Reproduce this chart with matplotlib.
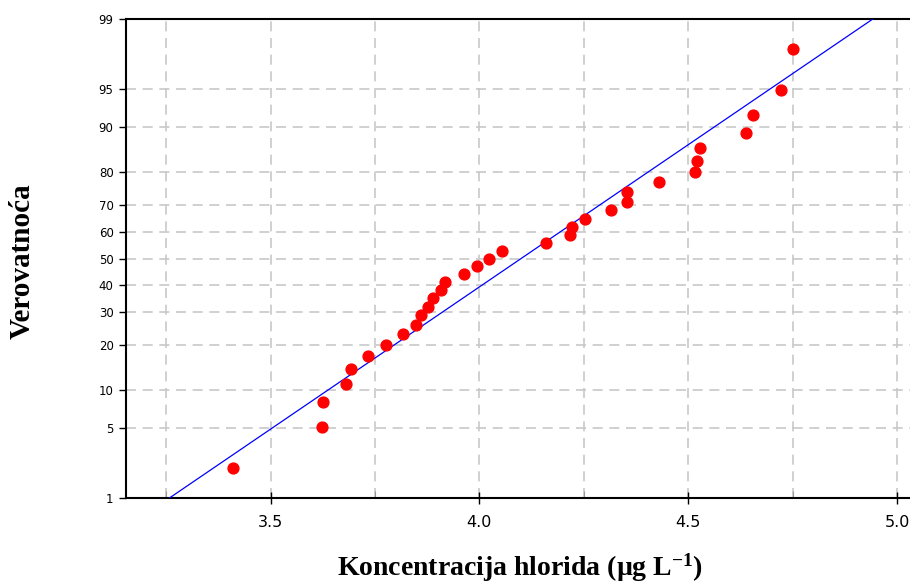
import matplotlib.pyplot as plt
from statistics import NormalDist

# koncentracija hlorida (x) i verovatnoca u % (y), ocitano sa grafika
konc = [3.409, 3.623, 3.625, 3.681, 3.693, 3.734, 3.777, 3.816, 3.849, 3.860,
        3.877, 3.889, 3.909, 3.917, 3.963, 3.994, 4.024, 4.055, 4.160, 4.218,
        4.221, 4.253, 4.315, 4.353, 4.353, 4.430, 4.517, 4.521, 4.528, 4.638,
        4.655, 4.722, 4.752]
verov = [2.1, 5.1, 8.1, 11.1, 14.1, 17.1, 20.1, 23.1, 26.0, 29.0,
         32.0, 35.0, 38.0, 41.0, 44.0, 47.0, 50.0, 53.0, 56.0, 59.0,
         62.0, 65.0, 68.0, 71.0, 74.0, 77.0, 79.9, 82.9, 85.9, 88.9,
         91.9, 94.9, 97.9]

# prava normalne raspodele
fit_x = [3.258, 4.942]
fit_p = [1, 99]

y_ticks = [1, 5, 10, 20, 30, 40, 50, 60, 70, 80, 90, 95, 99]
x_ticks = [3.5, 4.0, 4.5, 5.0]
x_minor = [3.25, 3.75, 4.25, 4.75]

nd = NormalDist()


def z(p):
    return [nd.inv_cdf(v / 100) for v in p]


fig = plt.figure(figsize=(9.1, 5.87), dpi=100)
ax = fig.add_axes([126 / 910, 89 / 587, 784 / 910, 479 / 587])

ax.plot(fit_x, z(fit_p), color='#0000ff', lw=0.9, zorder=3)
ax.plot(konc, z(verov), 'o', color='#ff0000', markersize=7.8, zorder=4)

ax.set_xlim(3.154, 5.031)
ax.set_ylim(nd.inv_cdf(0.01), nd.inv_cdf(0.99))

ax.set_yticks(z(y_ticks))
ax.set_yticklabels([str(t) for t in y_ticks], fontsize=8.5)
ax.set_xticks(x_ticks)
ax.set_xticks(x_minor, minor=True)
ax.set_xticklabels(['%.1f' % t for t in x_ticks], fontsize=11.5)

ax.grid(True, which='both', axis='x', color='#c8c8c8', ls=(0, (6, 4)), lw=1.2)
ax.grid(True, which='major', axis='y', color='#c8c8c8', ls=(0, (6, 4)), lw=1.2)
ax.set_axisbelow(True)

ax.tick_params(axis='y', direction='out', length=5, width=1, pad=4)
ax.tick_params(axis='x', which='major', direction='inout', length=9, width=1, pad=8)
ax.tick_params(axis='x', which='minor', direction='in', length=5, width=0.8, color='#999999')
ax.spines['right'].set_visible(False)
for s in ['left', 'bottom', 'top']:
    ax.spines[s].set_linewidth(1.5)

fig.text(520 / 910, 1 - 568 / 587, 'Koncentracija hlorida (µg L$\\mathregular{^{-1}}$)',
         ha='center', va='center', fontfamily='Liberation Serif', fontweight='bold', fontsize=20)
fig.text(22 / 910, 1 - 261 / 587, 'Verovatnoća', rotation=90,
         ha='center', va='center', fontfamily='Liberation Serif', fontweight='bold', fontsize=21)

fig.savefig('out.png', dpi=100)
